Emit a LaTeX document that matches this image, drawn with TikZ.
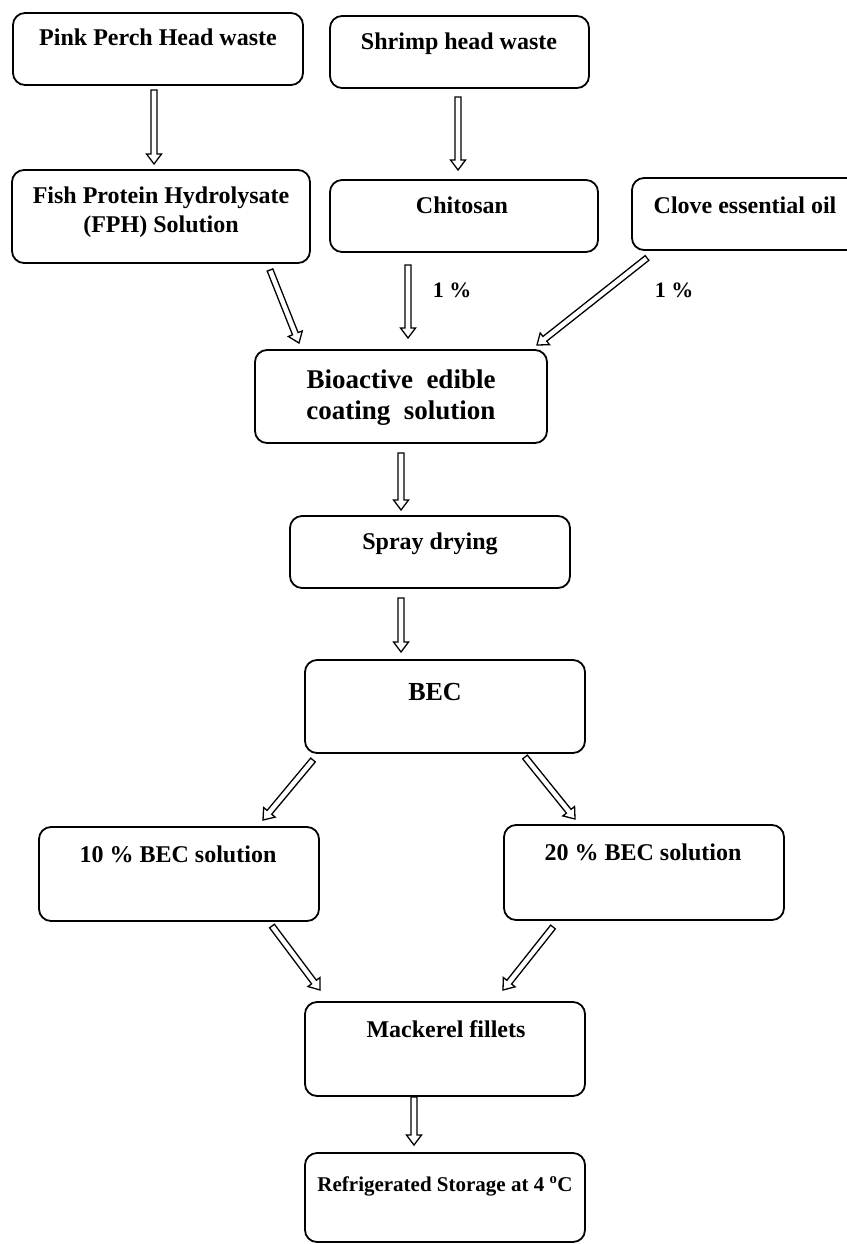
\documentclass[tikz,border=0pt]{standalone}
\usepackage{fontspec}
\setmainfont{Liberation Serif}
\usetikzlibrary{calc}
\tikzset{
  box/.style={draw=black, line width=1.8pt, rounded corners=12pt, rectangle, inner sep=0pt},
  txt/.style={font=\bfseries\fontsize{24}{29}\selectfont, inner sep=0pt, anchor=base, align=center},
  arr/.style={draw=black, line width=1.3pt, fill=white, line join=miter},
}
\newcommand{\hollowarr}[2]{%
  \coordinate (hh) at ($(#2)!10pt!(#1)$);
  \draw[arr] ($(#1)!3pt!90:(#2)$) -- ($(hh)!3pt!90:(#2)$) -- ($(hh)!7.5pt!90:(#2)$)
    -- (#2) -- ($(hh)!7.5pt!-90:(#2)$) -- ($(hh)!3pt!-90:(#2)$) -- ($(#1)!3pt!-90:(#2)$) -- cycle;
}
\begin{document}
\begin{tikzpicture}[x=1pt, y=-1pt]
\useasboundingbox[fill=white] (0,0) rectangle (846,1244);
% boxes
\node[box, minimum width=290pt, minimum height=72pt] (pink) at (158,49) {};
\node[box, minimum width=259pt, minimum height=72pt] (shrimp) at (459.5,52) {};
\node[box, minimum width=298pt, minimum height=93pt] (fph) at (161,216.5) {};
\node[box, minimum width=268pt, minimum height=72pt] (chit) at (464,216) {};
\node[box, minimum width=240pt, minimum height=72pt] (clove) at (752,214) {};
\node[box, minimum width=292pt, minimum height=93pt] (bio) at (401,396.5) {};
\node[box, minimum width=280pt, minimum height=72pt] (spray) at (430,552) {};
\node[box, minimum width=280pt, minimum height=93pt] (bec) at (445,706.5) {};
\node[box, minimum width=280pt, minimum height=94pt] (ten) at (179,874) {};
\node[box, minimum width=280pt, minimum height=95pt] (twenty) at (644,872.5) {};
\node[box, minimum width=280pt, minimum height=94pt] (mack) at (445,1049) {};
\node[box, minimum width=280pt, minimum height=89pt] (refr) at (445,1197.5) {};
% texts
\node[txt] (pinkt) at (158,46) {Pink Perch Head waste};
\node[txt] (shrimpt) at (459,50) {Shrimp head waste};
\node[txt] (fpht) at (161,232) {Fish Protein Hydrolysate\\(FPH) Solution};
\node[txt] (chitt) at (462,213) {Chitosan};
\node[txt] (clovet) at (745,213) {Clove essential oil};
\node[txt, font=\bfseries\fontsize{22}{26}\selectfont] (p1) at (452,297) {1 \%};
\node[txt, font=\bfseries\fontsize{22}{26}\selectfont] (p2) at (674,297) {1 \%};
\node[txt, font=\bfseries\fontsize{27}{31}\selectfont] (biot) at (401,419) {Bioactive\ \ edible\\coating\ \ solution};
\node[txt] (sprayt) at (430,549) {Spray drying};
\node[txt, font=\bfseries\fontsize{26}{30}\selectfont] (bect) at (435,700) {BEC};
\node[txt] (tent) at (178,862) {10 \% BEC solution};
\node[txt] (twentyt) at (643,860) {20 \% BEC solution};
\node[txt] (mackt) at (446,1037) {Mackerel fillets};
\node[txt, font=\bfseries\fontsize{21}{25}\selectfont] (refrt) at (445,1191) {Refrigerated Storage at 4 \textsuperscript{o}C};
% arrow end points
\coordinate (a1s) at (154,90);   \coordinate (a1e) at (154,164);
\coordinate (a2s) at (458,97);   \coordinate (a2e) at (458,170);
\coordinate (a3s) at (270,270);  \coordinate (a3e) at (299,343);
\coordinate (a4s) at (408,265);  \coordinate (a4e) at (408,338);
\coordinate (a5s) at (647,258);  \coordinate (a5e) at (537,345);
\coordinate (a6s) at (401,453);  \coordinate (a6e) at (401,510);
\coordinate (a7s) at (401,598);  \coordinate (a7e) at (401,652);
\coordinate (a8s) at (313,760);  \coordinate (a8e) at (263,820);
\coordinate (a9s) at (525,757);  \coordinate (a9e) at (575,819);
\coordinate (a10s) at (272,926); \coordinate (a10e) at (320,990);
\coordinate (a11s) at (553,927); \coordinate (a11e) at (503,990);
\coordinate (a12s) at (414,1097); \coordinate (a12e) at (414,1145);
\hollowarr{a1s}{a1e}
\hollowarr{a2s}{a2e}
\hollowarr{a3s}{a3e}
\hollowarr{a4s}{a4e}
\hollowarr{a5s}{a5e}
\hollowarr{a6s}{a6e}
\hollowarr{a7s}{a7e}
\hollowarr{a8s}{a8e}
\hollowarr{a9s}{a9e}
\hollowarr{a10s}{a10e}
\hollowarr{a11s}{a11e}
\hollowarr{a12s}{a12e}
\end{tikzpicture}
\end{document}
